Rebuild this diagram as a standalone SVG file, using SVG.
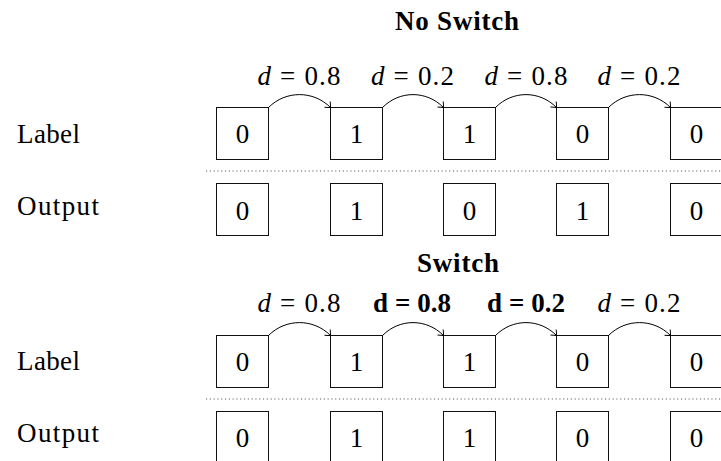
<svg xmlns="http://www.w3.org/2000/svg" width="721" height="461" viewBox="0 0 721 461">
<style>
text{font-family:"Liberation Serif","Times New Roman",serif;font-size:27px;fill:#000}
.t{font-weight:bold;text-anchor:middle}
.c{text-anchor:middle}
.b{font-weight:bold;text-anchor:middle}
.box{fill:none;stroke:#111;stroke-width:1}
.arc{fill:none;stroke:#000;stroke-width:1;marker-end:url(#to)}
.dot{stroke:#555;stroke-width:1.1;stroke-dasharray:1.1 2.7}
</style>
<defs>
<marker id="to" viewBox="-6 -6 8 12" markerWidth="8" markerHeight="12" refX="0" refY="0" orient="auto" markerUnits="userSpaceOnUse">
<path d="M-4.5,-4 Q-0.8,-1 0,0 Q-0.8,1 -4.5,4" fill="none" stroke="#000" stroke-width="1"/>
</marker>
</defs>
<g id="titles">
<text class="t" x="457" y="30" textLength="124" lengthAdjust="spacing">No Switch</text>
<text class="t" x="458" y="272" textLength="82" lengthAdjust="spacing">Switch</text>
</g>
<g id="row-labels">
<text x="17" y="143" textLength="63" lengthAdjust="spacing">Label</text>
<text x="17" y="215" textLength="82" lengthAdjust="spacing">Output</text>
<text x="17" y="370" textLength="63" lengthAdjust="spacing">Label</text>
<text x="17" y="442" textLength="82" lengthAdjust="spacing">Output</text>
</g>
<g id="separators">
<line class="dot" x1="206" y1="171" x2="721" y2="171"/>
<line class="dot" x1="206" y1="399" x2="721" y2="399"/>
</g>
<g id="s1-label">
<g id="s1-l0"><rect class="box" x="216.5" y="107.5" width="52" height="52"/><text class="c" x="242.5" y="143">0</text></g>
<g id="s1-l1"><rect class="box" x="330.5" y="107.5" width="52" height="52"/><text class="c" x="356.5" y="143">1</text></g>
<g id="s1-l2"><rect class="box" x="443.5" y="107.5" width="52" height="52"/><text class="c" x="469.5" y="143">1</text></g>
<g id="s1-l3"><rect class="box" x="556.5" y="107.5" width="52" height="52"/><text class="c" x="582.5" y="143">0</text></g>
<g id="s1-l4"><rect class="box" x="670.5" y="107.5" width="52" height="52"/><text class="c" x="696.5" y="143">0</text></g>
</g>
<g id="s1-output">
<g id="s1-o0"><rect class="box" x="216.5" y="183.5" width="52" height="52"/><text class="c" x="242.5" y="219.5">0</text></g>
<g id="s1-o1"><rect class="box" x="330.5" y="183.5" width="52" height="52"/><text class="c" x="356.5" y="219.5">1</text></g>
<g id="s1-o2"><rect class="box" x="443.5" y="183.5" width="52" height="52"/><text class="c" x="469.5" y="219.5">0</text></g>
<g id="s1-o3"><rect class="box" x="556.5" y="183.5" width="52" height="52"/><text class="c" x="582.5" y="219.5">1</text></g>
<g id="s1-o4"><rect class="box" x="670.5" y="183.5" width="52" height="52"/><text class="c" x="696.5" y="219.5">0</text></g>
</g>
<g id="s2-label">
<g id="s2-l0"><rect class="box" x="216.5" y="335.5" width="52" height="52"/><text class="c" x="242.5" y="371">0</text></g>
<g id="s2-l1"><rect class="box" x="330.5" y="335.5" width="52" height="52"/><text class="c" x="356.5" y="371">1</text></g>
<g id="s2-l2"><rect class="box" x="443.5" y="335.5" width="52" height="52"/><text class="c" x="469.5" y="371">1</text></g>
<g id="s2-l3"><rect class="box" x="556.5" y="335.5" width="52" height="52"/><text class="c" x="582.5" y="371">0</text></g>
<g id="s2-l4"><rect class="box" x="670.5" y="335.5" width="52" height="52"/><text class="c" x="696.5" y="371">0</text></g>
</g>
<g id="s2-output">
<g id="s2-o0"><rect class="box" x="216.5" y="411.5" width="52" height="52"/><text class="c" x="242.5" y="447">0</text></g>
<g id="s2-o1"><rect class="box" x="330.5" y="411.5" width="52" height="52"/><text class="c" x="356.5" y="447">1</text></g>
<g id="s2-o2"><rect class="box" x="443.5" y="411.5" width="52" height="52"/><text class="c" x="469.5" y="447">1</text></g>
<g id="s2-o3"><rect class="box" x="556.5" y="411.5" width="52" height="52"/><text class="c" x="582.5" y="447">0</text></g>
<g id="s2-o4"><rect class="box" x="670.5" y="411.5" width="52" height="52"/><text class="c" x="696.5" y="447">0</text></g>
</g>
<g id="connectors">
<path class="arc" d="M268.5,107.5 C285.7,90.3 313.3,90.3 330.5,107.5"/>
<path class="arc" d="M382.5,107.5 C399.5,90.3 426.5,90.3 443.5,107.5"/>
<path class="arc" d="M495.5,107.5 C512.5,90.3 539.5,90.3 556.5,107.5"/>
<path class="arc" d="M608.5,107.5 C625.7,90.3 653.3,90.3 670.5,107.5"/>
<path class="arc" d="M268.5,335.5 C285.7,318.3 313.3,318.3 330.5,335.5"/>
<path class="arc" d="M382.5,335.5 C399.5,318.3 426.5,318.3 443.5,335.5"/>
<path class="arc" d="M495.5,335.5 C512.5,318.3 539.5,318.3 556.5,335.5"/>
<path class="arc" d="M608.5,335.5 C625.7,318.3 653.3,318.3 670.5,335.5"/>
</g>
<g id="connector-labels">
<text class="c" x="299" y="85" textLength="83" lengthAdjust="spacing"><tspan font-style="italic">d</tspan> = 0.8</text>
<text class="c" x="412.5" y="85" textLength="83" lengthAdjust="spacing"><tspan font-style="italic">d</tspan> = 0.2</text>
<text class="c" x="526" y="85" textLength="83" lengthAdjust="spacing"><tspan font-style="italic">d</tspan> = 0.8</text>
<text class="c" x="639" y="85" textLength="83" lengthAdjust="spacing"><tspan font-style="italic">d</tspan> = 0.2</text>
<text class="c" x="299" y="312" textLength="83" lengthAdjust="spacing"><tspan font-style="italic">d</tspan> = 0.8</text>
<text class="b" x="412" y="312" textLength="78" lengthAdjust="spacing">d = 0.8</text>
<text class="b" x="526" y="312" textLength="78" lengthAdjust="spacing">d = 0.2</text>
<text class="c" x="639" y="312" textLength="83" lengthAdjust="spacing"><tspan font-style="italic">d</tspan> = 0.2</text>
</g>
</svg>
